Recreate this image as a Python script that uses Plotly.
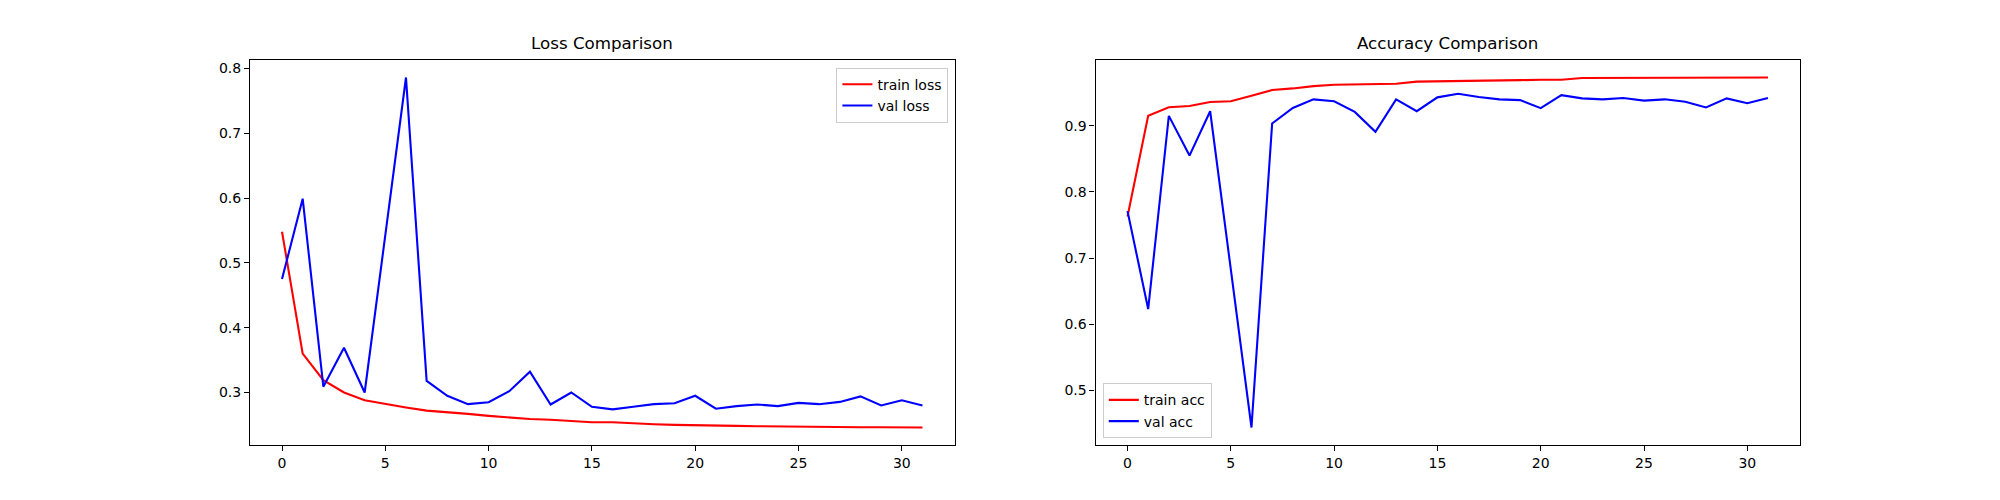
import plotly.graph_objects as go

epochs = list(range(32))

train_loss = [0.548, 0.360, 0.319, 0.300, 0.288, 0.282, 0.277, 0.272, 0.270, 0.267,
              0.264, 0.261, 0.259, 0.258, 0.256, 0.254, 0.254, 0.252, 0.251, 0.250,
              0.2496, 0.250, 0.2485, 0.248, 0.2475, 0.2475, 0.2475, 0.247, 0.2465, 0.2465,
              0.246, 0.246]
val_loss = [0.475, 0.599, 0.309, 0.369, 0.300, 0.540, 0.786, 0.318, 0.295, 0.282,
            0.285, 0.302, 0.332, 0.2815, 0.300, 0.278, 0.274, 0.278, 0.282, 0.2835,
            0.295, 0.275, 0.279, 0.2815, 0.279, 0.284, 0.282, 0.2855, 0.294, 0.280,
            0.288, 0.280]

train_acc = [0.763, 0.915, 0.928, 0.930, 0.936, 0.937, 0.9455, 0.954, 0.9565, 0.960,
             0.962, 0.9626, 0.963, 0.9636, 0.9667, 0.967, 0.967, 0.968, 0.9685, 0.969,
             0.9695, 0.9697, 0.9722, 0.9724, 0.9725, 0.9726, 0.9726, 0.9727, 0.9728, 0.9728,
             0.9729, 0.973]
val_acc = [0.771, 0.623, 0.915, 0.855, 0.922, 0.683, 0.444, 0.9035, 0.927, 0.940,
           0.937, 0.921, 0.891, 0.940, 0.922, 0.943, 0.9485, 0.9434, 0.940, 0.9388,
           0.9267, 0.9464, 0.9414, 0.940, 0.942, 0.938, 0.940, 0.9364, 0.9277, 0.9414,
           0.9342, 0.942]

font = "DejaVu Sans"


def padded(*series):
    # matplotlib style 5% margins
    lo = min(min(s) for s in series)
    hi = max(max(s) for s in series)
    pad = (hi - lo) * 0.05
    return [lo - pad, hi + pad]


fig = go.Figure()
fig.add_trace(go.Scatter(x=epochs, y=train_loss, mode="lines", name="train loss",
                         line=dict(color="red", width=2.1), xaxis="x", yaxis="y", legend="legend"))
fig.add_trace(go.Scatter(x=epochs, y=val_loss, mode="lines", name="val loss",
                         line=dict(color="blue", width=2.1), xaxis="x", yaxis="y", legend="legend"))
fig.add_trace(go.Scatter(x=epochs, y=train_acc, mode="lines", name="train acc",
                         line=dict(color="red", width=2.1), xaxis="x2", yaxis="y2", legend="legend2"))
fig.add_trace(go.Scatter(x=epochs, y=val_acc, mode="lines", name="val acc",
                         line=dict(color="blue", width=2.1), xaxis="x2", yaxis="y2", legend="legend2"))

axis_style = dict(showline=True, linecolor="black", linewidth=1.1, mirror=True,
                  showgrid=False, zeroline=False, ticks="outside", ticklen=5,
                  tickwidth=1.1, tickcolor="black",
                  tickfont=dict(family=font, size=14, color="black"))

xr = [epochs[0] - 0.05 * (epochs[-1] - epochs[0]), epochs[-1] + 0.05 * (epochs[-1] - epochs[0])]

legend_style = dict(bgcolor="rgba(255,255,255,0.8)", bordercolor="#cccccc", borderwidth=1,
                    font=dict(family=font, size=14, color="black"),
                    tracegroupgap=0, itemwidth=30)

fig.update_layout(
    width=2000, height=500,
    margin=dict(l=0, r=0, t=0, b=0),
    paper_bgcolor="white", plot_bgcolor="white",
    font=dict(family=font, color="black"),
    xaxis=dict(domain=[0.125, 0.47725], range=xr, dtick=5, anchor="y", **axis_style),
    yaxis=dict(domain=[0.11, 0.88], range=padded(train_loss, val_loss), dtick=0.1,
               tickformat=".1f", anchor="x", **axis_style),
    xaxis2=dict(domain=[0.54775, 0.9], range=xr, dtick=5, anchor="y2", **axis_style),
    yaxis2=dict(domain=[0.11, 0.88], range=padded(train_acc, val_acc), dtick=0.1,
                tickformat=".1f", anchor="x2", **axis_style),
    legend=dict(x=0.4742, y=0.8646, xanchor="right", yanchor="top", **legend_style),
    legend2=dict(x=0.5514, y=0.1234, xanchor="left", yanchor="bottom", **legend_style),
    annotations=[
        dict(text="Loss Comparison", xref="x domain", yref="y domain", x=0.5, y=1,
             xanchor="center", yanchor="bottom", yshift=5, showarrow=False,
             font=dict(family=font, size=16.7, color="black")),
        dict(text="Accuracy Comparison", xref="x2 domain", yref="y2 domain", x=0.5, y=1,
             xanchor="center", yanchor="bottom", yshift=5, showarrow=False,
             font=dict(family=font, size=16.7, color="black")),
    ],
)

# drop the default page margin so the figure sits at the window's corner
fig.write_html("out.html", config={"displayModeBar": False},
               post_script="document.body.style.margin='0';")
